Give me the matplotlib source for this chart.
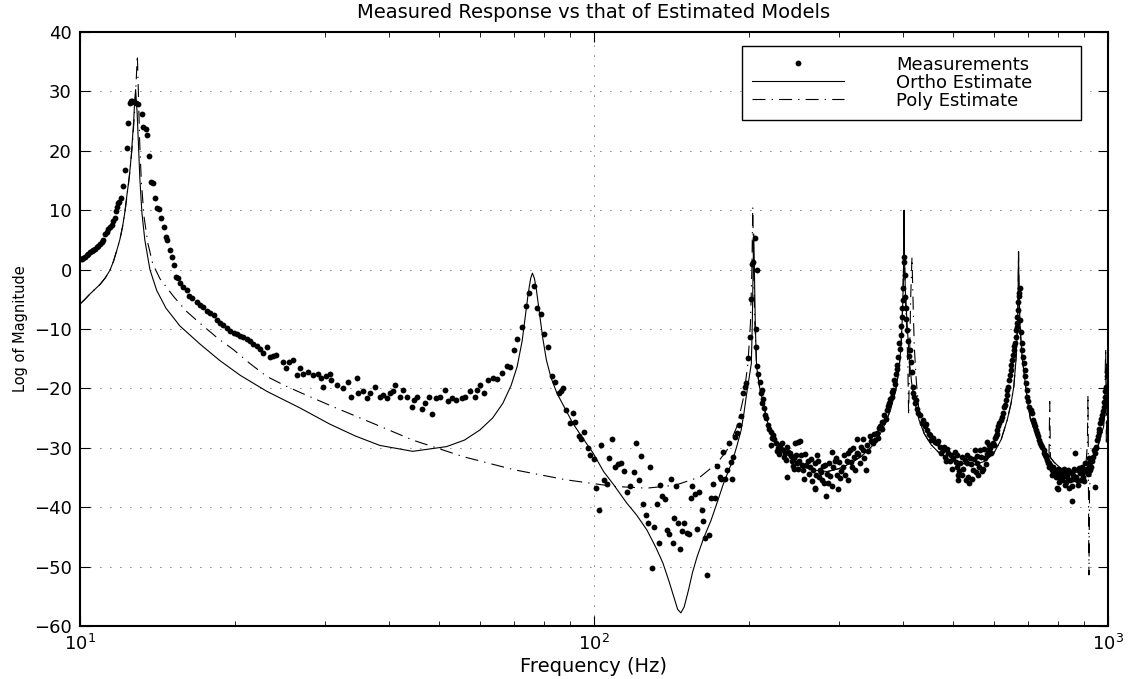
import matplotlib.pyplot as plt
import numpy as np
from matplotlib.ticker import NullFormatter

# ---- data (frequency in Hz, log magnitude) ----
# measured points, left flank of the first resonance
meas_rise = [
    (10.0, 1.7), (10.08, 1.8), (10.15, 2.0), (10.23, 2.2), (10.31, 2.5), (10.38, 2.7),
    (10.46, 2.9), (10.53, 3.1), (10.61, 3.3), (10.69, 3.5), (10.77, 3.8), (10.85, 4.0),
    (10.94, 4.3), (11.02, 4.6), (11.10, 5.0), (11.19, 6.0), (11.28, 6.4), (11.36, 6.8),
    (11.44, 7.1), (11.52, 7.5), (11.61, 8.1), (11.69, 8.6), (11.76, 9.8), (11.82, 10.6),
    (11.87, 11.2), (11.93, 11.4), (12.00, 12.0), (12.10, 14.0), (12.23, 16.8), (12.33, 20.4),
    (12.42, 24.6), (12.51, 28.1), (12.57, 28.3), (12.64, 28.3), (12.73, 28.2),
]
# measured points, decay after the first resonance
meas_decay = [
    (12.87, 28.0), (12.98, 27.8), (13.18, 26.2), (13.27, 24.0), (13.42, 23.6), (13.52, 22.6),
    (13.62, 19.1), (13.75, 14.8), (13.84, 14.6), (13.97, 12.0), (14.10, 10.3), (14.25, 10.2),
    (14.40, 8.7), (14.55, 7.1), (14.68, 5.5), (14.80, 5.0), (14.95, 3.3), (15.10, 2.2),
    (15.22, 0.8), (15.35, -1.2), (15.50, -1.5), (15.65, -2.3), (15.88, -3.0), (16.12, -3.5),
    (16.30, -4.4), (16.50, -4.8), (16.87, -5.4), (17.13, -6.0), (17.39, -6.3), (17.66, -6.9),
    (17.90, -7.3), (18.20, -7.7), (18.46, -8.5), (18.70, -9.0), (19.00, -9.4), (19.30, -9.9),
    (19.60, -10.3), (19.90, -10.6), (20.20, -10.8), (20.50, -11.1), (20.80, -11.4), (21.10, -11.7),
    (21.45, -12.1), (21.75, -12.5), (22.10, -12.8), (22.40, -13.3), (22.70, -14.1), (23.10, -13.0),
    (23.40, -14.7), (23.75, -14.6), (24.10, -14.4), (24.80, -15.5), (25.20, -16.6), (25.50, -15.6),
    (26.00, -15.2), (26.40, -17.7), (26.80, -16.6), (27.20, -17.5), (27.80, -17.2), (28.40, -17.7),
    (29.00, -17.5), (29.50, -18.3), (29.70, -19.7), (30.10, -18.0), (30.60, -17.5), (30.80, -18.6),
    (31.60, -19.4), (32.50, -20.0), (33.20, -18.9), (33.70, -21.4), (34.60, -18.3), (34.80, -20.8),
    (35.50, -20.5), (36.10, -21.7), (36.60, -20.8), (37.50, -19.7),
]
# measured points around the second resonance
meas_second = [
    (38.3, -21.4), (38.9, -21.1), (39.5, -21.7), (40.1, -20.8), (40.7, -20.5), (41.0, -19.4),
    (41.9, -21.4), (42.6, -20.3), (43.2, -21.4), (44.3, -23.2), (44.6, -21.9), (45.3, -21.4),
    (46.3, -23.5), (47.0, -22.5), (47.7, -21.4), (48.5, -24.3), (49.2, -21.7), (50.2, -21.4),
    (51.3, -20.2), (52.1, -22.2), (52.9, -21.7), (54.0, -21.9), (55.3, -21.7), (56.1, -21.4),
    (57.4, -20.5), (58.7, -21.4), (59.1, -20.3), (60.0, -19.4), (61.1, -20.7), (62.3, -18.6),
    (63.7, -18.3), (64.9, -18.5), (66.3, -17.4), (67.6, -16.3), (68.6, -16.4), (69.9, -13.5),
    (70.9, -11.7), (72.4, -9.6), (73.7, -6.1), (74.6, -4.0), (76.4, -2.8), (77.6, -6.5),
    (79.0, -7.5), (80.0, -10.9), (81.4, -13.1), (82.7, -18.0), (84.1, -19.0), (85.4, -20.8),
]
# measured points in the noisy trough (86-200 Hz)
meas_trough = [
    (86.4, -20.5), (87.2, -20.0), (88.4, -23.6), (89.8, -25.9), (91.0, -24.2), (91.9, -25.6),
    (93.4, -28.0), (94.5, -28.6), (95.6, -27.3), (97.4, -30.0), (98.3, -31.2), (99.8, -31.9),
    (101.1, -36.7), (102.3, -40.5), (103.4, -29.5), (104.6, -35.4), (106.1, -36.1), (107.0, -31.7),
    (108.2, -28.5), (110.0, -33.3), (111.5, -32.7), (113.0, -32.5), (114.3, -33.9), (115.9, -37.5),
    (117.4, -36.5), (119.4, -34.1), (120.9, -29.2), (122.1, -35.4), (123.2, -31.4), (124.8, -39.5),
    (126.3, -41.4), (127.6, -42.7), (128.4, -33.2), (129.9, -50.3), (131.1, -43.3), (132.7, -39.5),
    (133.7, -46.1), (134.4, -36.3), (135.9, -38.1), (137.2, -38.7), (138.6, -43.8), (140.1, -44.5),
    (141.0, -35.3), (142.4, -46.0), (143.2, -41.8), (144.7, -36.4), (146.0, -42.6), (147.2, -47.1),
    (148.5, -44.0), (149.6, -42.6), (151.4, -44.3), (153.2, -44.6), (154.8, -38.4), (155.4, -36.4),
    (157.0, -37.7), (158.6, -43.6), (160.4, -37.4), (162.0, -40.5), (162.7, -42.3), (164.4, -45.2),
    (166.3, -51.4), (167.5, -44.7), (168.8, -38.5), (170.5, -36.1), (172.0, -38.5), (173.7, -33.1),
    (175.5, -34.9), (177.0, -35.3), (178.3, -30.7), (180.0, -35.3), (181.4, -33.7), (183.3, -29.2),
    (184.6, -32.4), (185.4, -35.3), (186.5, -31.6), (187.9, -28.2), (190.0, -27.5), (191.3, -26.2),
    (192.9, -24.6), (194.9, -20.7), (196.9, -19.7), (197.8, -19.1), (199.4, -14.9), (200.9, -11.3),
]
# measured points, three high-frequency resonances
meas_high = [
    (202.5, -5.0), (203.4, 1.0), (204.2, 1.3), (205.7, 5.3), (207.3, -0.1), (207.8, -16.3),
    (210.3, -18.9), (211.9, -22.5), (212.3, -20.2), (213.6, -21.8), (215.1, -24.5), (218.4, -26.2),
    (220.7, -27.3), (223.4, -27.8), (221.0, -29.5), (226.1, -29.2), (228.4, -30.1), (230.0, -29.5),
    (232.0, -29.2), (233.7, -30.4), (235.5, -30.9), (237.0, -34.9), (239.0, -30.7), (240.5, -30.9),
    (242.6, -32.3), (244.5, -33.6), (246.3, -29.2), (248.1, -32.6), (247.0, -31.2), (250.5, -32.3),
    (249.5, -29.0), (251.6, -28.8), (253.5, -32.9), (257.2, -31.0), (261.0, -32.2), (263.1, -33.2),
    (267.1, -33.7), (269.1, -32.6), (269.5, -36.9), (268.8, -36.8), (273.1, -32.2), (275.2, -33.7),
    (277.3, -35.4), (281.5, -32.9), (282.4, -38.2), (285.7, -36.0), (290.1, -30.7), (292.3, -33.2),
    (295.8, -31.8), (298.9, -37.0), (301.0, -35.1), (305.6, -33.2), (310.2, -32.3), (312.6, -35.4),
    (314.8, -30.4), (317.2, -33.2), (320.5, -31.5), (324.4, -28.6), (325.3, -30.9), (329.2, -32.6),
    (333.2, -28.6), (334.1, -30.4), (338.2, -33.7), (340.2, -29.5), (344.3, -28.1), (348.5, -29.2),
    (352.1, -28.7), (354.8, -27.5), (360.1, -26.4), (362.8, -25.6), (365.6, -25.6), (371.1, -23.6),
    (375.6, -22.5), (379.5, -21.4), (382.4, -20.3), (384.1, -18.6), (387.1, -17.5), (388.3, -16.1),
    (391.1, -14.7), (392.9, -12.4), (395.4, -11.0), (397.2, -7.9), (399.0, -5.1), (400.1, -3.1),
    (400.5, 2.2), (401.4, 1.3), (403.2, -0.9), (402.3, -4.6), (406.3, -10.2), (411.8, -13.5),
    (415.0, -17.2), (416.9, -19.7), (421.2, -22.5), (424.5, -23.4), (430.7, -24.5), (437.3, -25.3),
    (440.6, -26.4), (445.2, -27.0), (450.4, -27.8), (457.3, -28.4), (464.2, -29.2), (471.1, -29.8),
    (476.9, -30.4), (481.9, -31.5), (489.0, -30.9), (492.7, -32.3), (500.1, -31.8), (503.8, -30.7),
    (507.7, -33.2), (511.4, -34.6), (511.0, -35.4), (515.2, -32.6), (523.1, -33.5), (531.0, -32.6),
    (534.9, -34.9), (535.5, -36.0), (538.8, -31.8), (545.3, -33.7), (551.0, -30.4), (555.2, -32.6),
    (559.2, -34.6), (563.5, -30.4), (572.0, -33.5), (576.4, -31.8), (580.8, -29.0), (585.1, -30.4),
    (589.3, -30.1), (596.5, -29.2), (602.7, -28.4), (607.4, -27.0), (611.9, -26.4), (618.3, -25.3),
    (624.1, -24.2), (627.9, -23.1), (633.7, -22.0), (637.5, -20.3), (643.4, -18.6), (647.6, -16.9),
    (650.6, -15.2), (655.5, -13.5), (660.6, -12.4), (663.6, -10.2), (665.8, -9.0), (667.6, -6.8),
    (670.6, -4.0), (673.7, -3.1), (674.9, -8.5), (679.3, -12.4), (684.3, -14.7), (689.6, -16.9),
    (692.7, -19.1), (696.9, -21.4), (703.3, -23.1), (711.0, -24.2), (714.3, -25.3), (721.9, -26.4),
    (727.4, -27.5), (732.8, -28.7), (740.0, -29.5), (750.0, -30.4), (755.3, -31.2), (760.9, -32.1),
    (766.4, -32.6), (771.1, -32.9), (777.2, -33.7), (783.2, -33.2), (789.1, -34.3), (795.2, -34.0),
    (795.5, -36.8), (801.3, -34.9), (801.0, -37.0), (806.4, -33.7), (812.7, -35.4), (819.0, -34.3),
    (825.3, -36.3), (831.7, -34.9), (838.1, -33.7), (843.4, -35.4), (850.7, -36.5), (850.2, -38.9),
    (856.5, -34.6), (863.8, -30.9), (870.4, -35.4), (877.2, -33.7), (882.0, -34.3), (889.8, -33.2),
    (896.3, -34.9), (903.3, -32.6), (910.3, -33.5), (917.4, -31.8), (922.4, -33.7), (931.6, -32.3),
    (938.7, -30.4), (946.0, -29.8), (945.5, -36.6), (953.4, -28.7), (960.9, -27.3), (964.7, -25.9),
    (973.2, -24.5), (981.2, -23.1), (985.1, -21.4), (993.3, -19.7), (995.6, -18.0), (998.2, -16.6),
]
# further measured points in the dense band above 200 Hz
meas_band = [
    (206.5, -10.0), (206.9, -13.0), (209.0, -17.5), (211.0, -20.8), (214.5, -23.3), (216.5, -25.0),
    (219.5, -26.8), (222.0, -28.3), (224.5, -28.6), (227.5, -30.6), (229.5, -31.0), (231.0, -30.2),
    (234.5, -31.5), (236.5, -32.1), (238.0, -29.8), (241.5, -31.4), (243.5, -33.0), (245.5, -31.8),
    (249.0, -33.5), (252.5, -31.2), (255.0, -33.8), (256.5, -35.2), (259.0, -32.9), (262.0, -34.4),
    (264.5, -31.9), (266.0, -35.6), (271.0, -34.6), (272.0, -31.2), (274.0, -35.0), (276.5, -34.1),
    (279.0, -33.0), (280.0, -36.0), (283.5, -34.4), (287.0, -32.6), (288.5, -34.8), (291.0, -36.4),
    (294.0, -32.2), (296.5, -34.6), (300.0, -32.4), (303.0, -33.9), (307.0, -31.3), (308.5, -34.6),
    (311.5, -30.8), (315.8, -32.4), (318.5, -30.1), (322.0, -33.8), (327.0, -31.0), (331.0, -29.8),
    (336.0, -31.8), (342.0, -30.6), (346.0, -28.9), (350.5, -27.6), (356.5, -28.3), (358.5, -26.7),
    (363.5, -26.8), (367.5, -24.5), (369.5, -25.2), (373.5, -22.9), (377.5, -21.8), (380.5, -20.6),
    (385.5, -19.2), (389.5, -16.8), (393.8, -13.3), (396.2, -9.5), (398.1, -6.5),
    (404.2, -6.5), (405.2, -8.3), (408.5, -12.0), (410.0, -14.5), (413.5, -15.6), (418.5, -20.8),
    (419.5, -21.5), (423.0, -22.0), (427.0, -24.2), (434.0, -25.8), (442.5, -26.0), (447.8, -27.6),
    (453.5, -28.7), (460.5, -29.0), (467.5, -28.9), (473.0, -30.9), (479.0, -29.9), (485.0, -32.2),
    (487.0, -30.2), (495.0, -31.2), (497.5, -33.6), (505.5, -32.4), (509.5, -31.3), (513.0, -33.9),
    (519.0, -31.5), (521.0, -34.5), (526.5, -32.1), (528.5, -35.5), (533.0, -31.2), (541.5, -32.7),
    (543.0, -35.2), (548.5, -31.9), (553.0, -34.1), (557.0, -31.4), (561.5, -33.2), (566.0, -31.5),
    (568.5, -33.9), (574.0, -30.2), (578.5, -32.8), (583.0, -31.0), (587.0, -29.6), (592.5, -30.8),
    (599.5, -29.5), (605.0, -28.0), (609.5, -27.6), (614.5, -25.8), (621.0, -24.8), (630.5, -22.8),
    (635.5, -21.1), (640.5, -19.7), (645.5, -17.8), (649.0, -16.0), (653.0, -14.3), (658.0, -12.9),
    (662.0, -11.3), (664.7, -9.6), (666.7, -7.9), (669.0, -5.5), (672.2, -4.5),
    (676.5, -10.5), (681.8, -13.5), (687.0, -15.8), (691.0, -18.0), (694.5, -20.2), (700.0, -22.2),
    (707.0, -23.7), (717.5, -25.9), (724.5, -27.0), (730.0, -28.1), (736.5, -29.2), (745.0, -29.8),
    (752.5, -30.8), (758.0, -31.6), (763.5, -32.5), (768.5, -33.3), (774.0, -33.2), (780.0, -34.6),
    (786.0, -33.7), (792.0, -35.0), (798.5, -33.5), (804.0, -35.8), (809.5, -34.2), (816.0, -34.8),
    (822.0, -33.5), (828.5, -35.7), (835.0, -34.2), (841.0, -36.8), (847.0, -34.0), (853.5, -35.2),
    (860.0, -33.5), (867.0, -34.9), (874.0, -36.2), (880.0, -33.4), (886.0, -35.5), (893.0, -34.0),
    (900.0, -35.6), (906.5, -33.8), (913.5, -34.4), (920.0, -32.5), (926.0, -33.2), (935.0, -31.5),
    (942.5, -30.9), (950.0, -30.1), (957.0, -28.0), (962.5, -26.8), (969.0, -25.2), (977.0, -23.8),
    (983.0, -22.3), (989.0, -20.5), (997.0, -17.2), (1000.0, -16.0),
]

# orthogonal-polynomial model estimate
ortho_est = [
    (10.0, -5.8), (10.2, -5.1), (10.46, -4.1), (10.7, -3.3), (10.94, -2.5), (11.2, -1.4),
    (11.44, -0.1), (11.62, 1.4), (11.8, 3.3), (11.96, 5.1), (12.1, 7.2), (12.22, 9.5),
    (12.33, 12.3), (12.43, 14.6), (12.51, 16.8), (12.59, 19.4), (12.66, 22.4), (12.72, 25.0),
    (12.76, 27.4), (12.83, 30.3), (12.92, 26.3),
    (13.0, 20.7), (13.08, 15.1), (13.2, 9.5), (13.37, 5.0), (13.68, 0.0), (14.1, -3.5),
    (14.7, -6.5), (15.65, -9.5), (17.1, -12.5), (18.7, -15.3), (20.5, -17.8), (23.1, -20.5),
    (26.8, -23.3), (30.6, -26.0), (34.3, -28.0), (38.3, -29.6), (44.4, -30.6), (51.7, -29.8),
    (56.0, -28.7), (60.0, -27.0), (63.5, -25.0), (66.5, -22.5), (69.0, -19.5), (70.9, -16.3),
    (72.5, -12.0), (73.5, -7.9), (74.5, -4.0), (75.3, -1.5), (75.9, -0.6), (76.6, -1.5),
    (77.3, -3.5), (78.5, -7.9), (79.5, -11.5), (80.8, -15.2), (82.5, -18.2), (84.7, -20.8),
    (88.0, -23.5), (91.0, -25.9), (95.0, -28.3), (99.8, -31.0), (104.4, -34.0), (109.2, -36.2),
    (115.8, -39.3), (121.0, -41.3), (126.7, -43.8), (132.0, -46.8), (136.2, -49.4), (140.0, -52.5),
    (143.0, -55.1), (145.5, -57.2), (147.6, -57.8), (149.8, -56.8), (152.8, -53.9), (155.5, -51.0),
    (158.8, -48.3), (163.5, -45.2), (169.0, -42.2), (174.0, -39.0), (178.7, -36.0), (182.5, -34.0),
    (186.2, -32.1), (190.0, -29.5), (193.4, -27.0), (195.8, -24.2), (197.8, -21.4), (200.2, -18.5),
    (202.4, -15.8), (203.3, -9.0), (204.0, 0.0), (204.6, 6.0), (205.2, 0.0), (206.0, -9.0),
    (207.2, -16.3), (210.0, -19.8), (213.4, -22.5), (219.5, -27.0), (226.0, -29.2), (233.1, -30.4),
    (244.0, -32.0), (255.5, -33.2), (270.0, -33.8), (284.6, -34.0), (300.0, -33.5), (316.0, -32.6),
    (332.0, -31.4), (347.0, -29.8), (358.0, -28.2), (368.8, -25.9), (378.0, -23.5), (386.5, -20.3),
    (392.0, -17.0), (395.3, -13.5), (397.5, -9.5), (399.3, -4.0), (400.5, 2.0), (401.2, 10.0),
    (402.0, 2.0), (403.5, -3.5), (406.0, -8.0), (410.7, -15.2), (415.0, -19.0), (420.0, -22.0),
    (429.0, -25.3), (439.0, -27.6), (453.0, -29.5), (470.0, -30.9), (492.0, -32.0), (516.0, -32.6),
    (548.0, -32.9), (575.0, -32.3), (600.0, -30.9), (620.0, -28.6), (637.0, -25.3), (648.0, -22.5),
    (656.0, -19.7), (662.0, -15.5), (666.0, -10.7), (668.5, -5.0), (670.0, 3.0), (671.5, -3.5),
    (673.5, -7.5), (675.6, -10.5), (681.0, -14.8), (688.0, -18.0), (697.0, -22.0), (707.0, -25.3),
    (730.0, -28.6), (760.0, -30.9), (787.0, -32.5), (816.0, -33.7), (850.0, -34.2), (882.0, -34.0),
    (910.0, -33.3), (934.0, -32.1), (958.0, -29.5), (981.0, -26.4), (992.0, -22.0), (1000.0, -16.3),
]

# polynomial model estimate
poly_est = [
    (10.0, -5.8), (10.2, -5.1), (10.46, -4.1), (10.7, -3.3), (10.94, -2.5), (11.2, -1.4),
    (11.44, -0.1), (11.62, 1.4), (11.8, 3.3), (11.96, 5.1), (12.1, 7.2), (12.22, 9.4),
    (12.33, 12.0), (12.51, 16.5), (12.66, 21.5), (12.78, 27.0), (12.86, 31.5), (12.93, 36.1),
    (12.99, 30.0), (13.06, 22.0), (13.16, 15.0), (13.32, 9.0), (13.55, 4.5), (13.85, 1.0),
    (14.3, -1.5), (15.2, -4.5), (16.1, -7.0), (17.1, -9.0), (18.5, -11.5), (19.9, -13.5),
    (21.4, -15.8), (23.1, -18.0), (25.0, -19.5), (27.0, -20.8), (31.1, -23.1), (38.4, -26.4),
    (44.4, -28.7), (55.7, -31.5), (69.9, -33.7), (88.4, -35.4), (109.2, -36.5), (126.7, -36.8),
    (144.0, -36.3), (161.0, -34.9), (173.6, -32.6), (181.5, -30.4), (189.8, -26.4), (195.6, -21.4),
    (199.4, -15.7), (201.6, -9.0), (202.9, 0.0), (203.7, 10.5), (204.5, 0.0), (205.6, -9.0),
    (207.2, -16.3), (210.0, -19.8), (213.4, -22.5), (219.5, -27.0), (226.0, -29.2), (233.1, -30.4),
    (244.0, -32.0), (255.5, -33.2), (270.0, -33.8), (284.6, -34.0), (300.0, -33.5), (316.0, -32.6),
    (332.0, -31.4), (347.0, -29.8), (358.0, -28.2), (368.8, -25.9), (378.0, -23.5), (386.5, -20.3),
    (392.0, -17.0), (395.3, -13.5), (397.5, -9.5), (399.3, -4.0), (400.3, 2.0), (401.0, 9.5),
    (401.8, 2.0), (403.5, -4.0), (406.0, -10.0), (408.0, -16.0), (409.5, -24.5), (411.2, -15.0),
    (413.2, -5.0), (415.7, 2.1), (417.6, -5.0), (420.0, -13.0), (424.0, -19.0), (429.0, -24.0),
    (439.0, -27.6), (453.0, -29.5), (470.0, -30.9), (492.0, -32.0), (516.0, -32.6), (548.0, -32.9),
    (575.0, -32.3), (600.0, -30.9), (620.0, -28.6), (637.0, -25.3), (648.0, -22.5), (656.0, -19.7),
    (662.0, -15.5), (666.0, -10.7), (668.5, -5.0), (670.0, 3.0), (671.5, -3.5), (673.5, -7.5),
    (675.6, -10.5), (681.0, -14.8), (688.0, -18.0), (697.0, -22.0), (707.0, -25.3), (730.0, -28.6),
    (760.0, -30.9), (768.0, -31.4), (770.5, -22.2), (773.0, -31.6), (787.0, -32.5), (816.0, -33.7),
    (850.0, -34.2), (882.0, -34.0), (905.0, -33.4), (912.0, -29.5), (914.5, -21.1), (916.5, -36.0),
    (918.5, -51.4), (921.0, -36.5), (934.0, -32.1), (958.0, -29.5), (975.0, -27.5), (985.0, -23.5),
    (990.0, -13.2), (993.0, -29.5), (996.5, -20.0), (1000.0, -17.0),
]

y_ticks = [-60, -50, -40, -30, -20, -10, 0, 10, 20, 30, 40]

plt.rcParams['font.family'] = ['DejaVu Sans']

fig = plt.figure(figsize=(11.28, 6.79), dpi=100)
ax = fig.add_axes([0.0709, 0.0781, 0.9113, 0.8748])

meas = np.array(meas_rise + meas_decay + meas_second + meas_trough + meas_high + meas_band)
ortho = np.array(ortho_est)
poly = np.array(poly_est)

ax.plot(meas[:, 0], meas[:, 1], 'o', color='k', ms=4.2, mew=0, label='Measurements')
ax.plot(ortho[:, 0], ortho[:, 1], '-', color='k', lw=0.8, label='Ortho Estimate')
ax.plot(poly[:, 0], poly[:, 1], color='k', lw=0.8,
        linestyle=(0, (11.7, 5.5, 1.2, 5.5)), label='Poly Estimate')

ax.set_xscale('log')
ax.set_xlim(10, 1000)
ax.set_ylim(-60, 40)
ax.set_yticks(y_ticks)
ax.xaxis.set_minor_formatter(NullFormatter())

ax.grid(True, which='major', color='k', linestyle=(0, (1, 11)), linewidth=0.6)
ax.tick_params(which='both', direction='in', top=True, right=True, labelsize=13, colors='k')
ax.tick_params(which='major', length=7, width=0.8, pad=6)
ax.tick_params(which='minor', length=3.5, width=0.6)
for sp in ax.spines.values():
    sp.set_linewidth(1.5)

ax.set_title('Measured Response vs that of Estimated Models', fontsize=14, pad=10)
ax.set_xlabel('Frequency (Hz)', fontsize=14, labelpad=2)
ax.set_ylabel('Log of Magnitude', fontsize=10.5, labelpad=4)

leg = ax.legend(loc='upper left', bbox_to_anchor=(0.6437, 0.846, 0.33, 0.131), mode='expand',
                borderaxespad=0, fontsize=13, fancybox=False, edgecolor='k', framealpha=1,
                numpoints=1, handlelength=5.1, handletextpad=2.9, borderpad=0.55, labelspacing=0.0)
leg.get_frame().set_linewidth(1.0)

fig.savefig('out.png', dpi=100)
